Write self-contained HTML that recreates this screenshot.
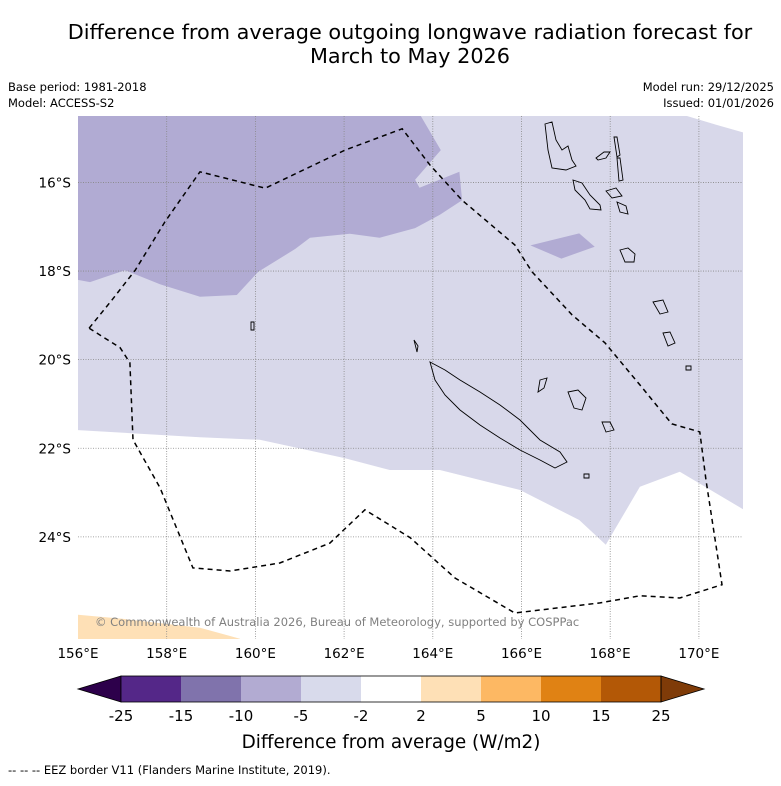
<!DOCTYPE html>
<html><head><meta charset="utf-8"><style>
body{margin:0;background:#fff;width:781px;height:781px;overflow:hidden;font-family:"Liberation Sans","DejaVu Sans",sans-serif}
</style></head><body>
<svg id="c" width="781" height="781" xmlns="http://www.w3.org/2000/svg" font-family="DejaVu Sans, Liberation Sans, sans-serif">
<text x="410" y="39" font-size="20.8" text-anchor="middle">Difference from average outgoing longwave radiation forecast for</text>
<text x="410" y="63" font-size="20.8" text-anchor="middle">March to May 2026</text>
<text x="8" y="91" font-size="11.5">Base period: 1981-2018</text>
<text x="8" y="107" font-size="11.5">Model: ACCESS-S2</text>
<text x="774" y="91" font-size="11.5" text-anchor="end">Model run: 29/12/2025</text>
<text x="774" y="107" font-size="11.5" text-anchor="end">Issued: 01/01/2026</text>
<defs><clipPath id="mc"><rect x="78" y="116" width="665" height="523"/></clipPath></defs>
<g id="map" clip-path="url(#mc)"></g>
<g id="axes"></g>
<g id="cb"></g>
<text x="391" y="748" font-size="18.4" text-anchor="middle">Difference from average (W/m2)</text>
<text x="8" y="774" font-size="11.5">--  --  -- EEZ border V11 (Flanders Marine Institute, 2019).</text>
</svg>
<script>
const NS="http://www.w3.org/2000/svg";
const lonTicks=[156,158,160,162,164,166,168,170];
const latTicks=[16,18,20,22,24];
const cbBounds=[-25,-15,-10,-5,-2,2,5,10,15,25];
const cbColors=["#542788","#8073ac","#b2abd2","#d8daeb","#ffffff","#fee0b6","#fdb863","#e08214","#b35806"];
const darkLon=[156,163.67,164.18,163.6,163.7,164.6,164.66,164.16,163.6,162.8,162.13,161.23,160.9,160.06,159.58,158.75,157.85,157.06,156.27,156];
const darkLat=[14.4,14.4,15.27,15.94,16.12,15.76,16.4,16.73,17.03,17.25,17.16,17.25,17.5,18.02,18.54,18.58,18.3,17.98,18.25,18.2];
const whiteLon=[156,158.75,160.1,162.0,163.03,164.16,165.96,167.3,167.9,168.67,169.57,171.1,171.1,156];
const whiteLat=[21.59,21.75,21.81,22.22,22.49,22.49,22.94,23.62,24.18,22.87,22.53,23.44,26.5,26.5];
const patchLon=[166.2,167.3,167.65,166.9];
const patchLat=[17.42,17.15,17.45,17.72];
const cornerLon=[169.4,170.4,171.1,171.1];
const cornerLat=[14.4,14.7,14.9,14.4];
const orangeLon=[156,157,158.75,159.65,159.8,156];
const orangeLat=[25.76,25.85,26.05,26.3,26.5,26.5];
const eezLon=[156.25,156.77,157.29,157.96,158.75,160.22,162.02,163.31,163.94,164.66,165.85,166.24,167.14,167.88,168.67,169.39,170.02,170.16,170.52,169.57,168.67,167.77,165.85,164.5,163.49,162.47,161.68,160.55,159.43,158.59,157.85,157.24,157.17,156.95,156.25];
const eezLat=[19.29,18.65,17.98,16.89,15.76,16.13,15.27,14.79,15.61,16.4,17.41,18.02,18.99,19.62,20.57,21.45,21.63,22.72,25.08,25.38,25.33,25.49,25.72,24.93,24.02,23.39,24.14,24.59,24.77,24.7,22.89,21.81,20.07,19.73,19.29];
const X=l=>78+(l-156)*44.35, Y=t=>116+(t-14.5)*44.3;
function el(p,tag,a){const e=document.createElementNS(NS,tag);for(const k in a)e.setAttribute(k,a[k]);p.appendChild(e);return e;}
const map=document.getElementById('map'),axes=document.getElementById('axes'),cb=document.getElementById('cb');
const pts=(lo,la)=>lo.map((v,i)=>X(v).toFixed(1)+","+Y(la[i]).toFixed(1)).join(" ");
let r=el(map,'rect',{x:78,y:116,width:665,height:523,fill:"#d8d8ea"});

let p=el(map,'polygon',{points:pts(darkLon,darkLat),fill:"#b1abd3"});

p=el(map,'polygon',{points:pts(patchLon,patchLat),fill:"#b1abd3"});

p=el(map,'polygon',{points:pts(whiteLon,whiteLat),fill:"#ffffff"});

p=el(map,'polygon',{points:pts(cornerLon,cornerLat),fill:"#ffffff"});

p=el(map,'polygon',{points:pts(orangeLon,orangeLat),fill:"#fee0b6"});

lonTicks.slice(1).forEach(l=>{const g=el(map,'line',{x1:X(l),x2:X(l),y1:116,y2:639,stroke:"#888",'stroke-width':0.8,'stroke-dasharray':"1,1.5"});
});
latTicks.forEach(t=>{const g=el(map,'line',{x1:78,x2:743,y1:Y(t),y2:Y(t),stroke:"#888",'stroke-width':0.8,'stroke-dasharray':"1,1.5"});
});
const isl=["430,362 445,370 460,380 480,392 500,405 520,420 540,440 560,452 567,462 555,468 540,460 520,450 500,438 480,425 460,410 445,395 435,380",
"545,124 552,122 556,140 562,150 568,146 572,160 576,166 566,170 552,168 548,150",
"573,180 582,183 590,195 600,205 601,210 590,209 585,200 575,190",
"614,137 617,137 620,155 617,157","617,158 620,158 623,180 619,181",
"596,158 604,152 610,152 606,158 598,160","606,191 616,188 622,196 612,198",
"617,202 626,206 628,214 620,212","620,250 628,248 635,254 634,262 625,262",
"653,302 663,300 668,312 660,314","663,333 670,332 675,343 668,346",
"568,392 578,390 586,398 582,410 574,408","602,422 610,422 614,430 606,432",
"540,380 547,378 544,388 538,392","686,366 691,366 691,370 686,370","584,474 589,474 589,478 584,478",
"251,322 254,322 254,330 251,330","414,340 418,346 417,352"];
isl.forEach(s=>{const e=el(map,'polygon',{points:s,fill:"none",stroke:"#000",'stroke-width':0.9});
});
const eez=el(map,'polyline',{points:pts(eezLon,eezLat),fill:"none",stroke:"#000",'stroke-width':1.5,'stroke-dasharray':"5,4"});

const cr=el(map,'text',{x:95,y:626,'font-size':11.5,fill:"#808080"});cr.textContent="© Commonwealth of Australia 2026, Bureau of Meteorology, supported by COSPPac";

lonTicks.forEach(l=>{const t=el(axes,'text',{x:X(l),y:658,'font-size':13.5,'text-anchor':"middle"});t.textContent=l+"°E";
});
latTicks.forEach(l=>{const t=el(axes,'text',{x:71,y:Y(l)+5,'font-size':13.5,'text-anchor':"end"});t.textContent=l+"°S";
});
const cx0=121,bw=60,cy=676,ch=26;
let tri=el(cb,'polygon',{points:`${cx0},${cy} 78,${cy+ch/2} ${cx0},${cy+ch}`,fill:"#2d004b",stroke:"#000",'stroke-width':0.8});

cbColors.forEach((c,i)=>{const b=el(cb,'rect',{x:cx0+i*bw,y:cy,width:bw,height:ch,fill:c});
});
const xe=cx0+cbColors.length*bw;
tri=el(cb,'polygon',{points:`${xe},${cy} ${xe+43},${cy+ch/2} ${xe},${cy+ch}`,fill:"#7f3b08",stroke:"#000",'stroke-width':0.8});

let o=el(cb,'rect',{x:cx0,y:cy,width:xe-cx0,height:ch,fill:"none",stroke:"#000",'stroke-width':0.8});

cbBounds.forEach((v,i)=>{const t=el(cb,'text',{x:cx0+i*bw,y:721,'font-size':15,'text-anchor':"middle"});t.textContent=v;
});
</script>
</body></html>
